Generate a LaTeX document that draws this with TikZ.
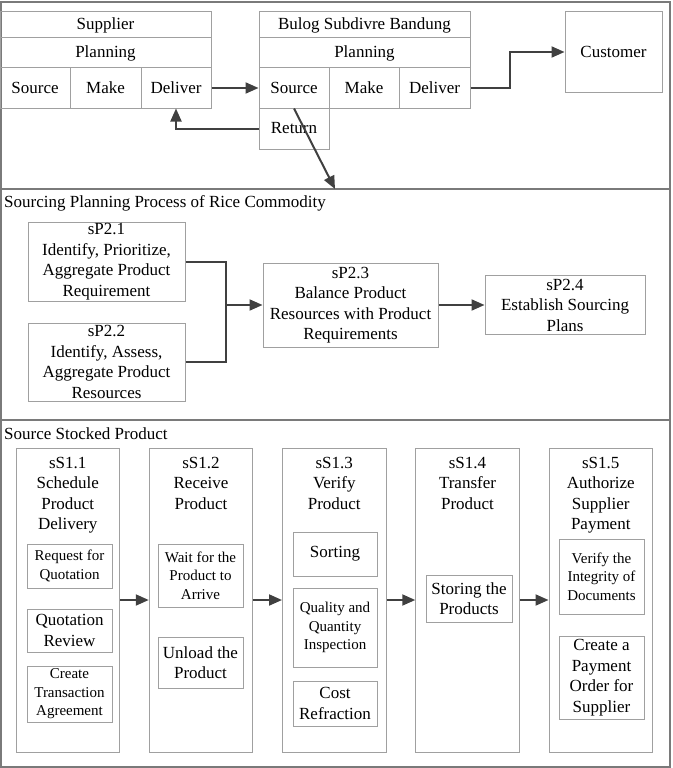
\documentclass[tikz,border=0pt]{standalone}
\usepackage{fontspec}
\setmainfont{Liberation Serif}
\usetikzlibrary{arrows.meta}
\definecolor{boxgray}{HTML}{A0A0A0}
\definecolor{framegray}{HTML}{7A7A7A}
\definecolor{arrowgray}{HTML}{404040}
\newcommand{\bigtxt}{\fontsize{17}{20.5}\selectfont}
\newcommand{\smalltxt}{\fontsize{15}{18.5}\selectfont}

\begin{document}
\begin{tikzpicture}[x=1pt,y=-1pt,
    cell/.style={draw=boxgray,line width=1pt,inner sep=0pt,align=center,font=\bigtxt},
    small/.style={font=\smalltxt},
    frame/.style={draw=framegray,line width=1.2pt},
    link/.style={draw=arrowgray,line width=2pt},
    arr/.style={link,-{Triangle[length=13pt,width=11pt]}}]
  \useasboundingbox (0,0) rectangle (672,768);
  \draw[frame] (1,2) rectangle (670,189);
  \draw[frame] (1,189) rectangle (670,420);
  \draw[frame] (1,420) rectangle (670,767);

  \node[cell,minimum width=211pt,minimum height=26pt] (sup) at (105.5,25) {Supplier};
  \node[cell,minimum width=211pt,minimum height=30pt] (supplan) at (105.5,53) {Planning};
  \node[cell,minimum width=70pt,minimum height=40pt] (supsrc) at (35,88) {Source};
  \node[cell,minimum width=71pt,minimum height=40pt] (supmake) at (105.5,88) {Make};
  \node[cell,minimum width=70pt,minimum height=40pt] (supdel) at (176,88) {Deliver};
  \node[cell,minimum width=211pt,minimum height=26pt] (bul) at (364.5,25) {Bulog Subdivre Bandung};
  \node[cell,minimum width=211pt,minimum height=30pt] (bulplan) at (364.5,53) {Planning};
  \node[cell,minimum width=70pt,minimum height=40pt] (bulsrc) at (294,88) {Source};
  \node[cell,minimum width=70pt,minimum height=40pt] (bulmake) at (364,88) {Make};
  \node[cell,minimum width=71pt,minimum height=40pt] (buldel) at (434.5,88) {Deliver};
  \node[cell,minimum width=70pt,minimum height=41pt] (bulret) at (294,128.5) {Return};
  \node[cell,minimum width=97pt,minimum height=80pt] (cust) at (613.5,52) {Customer};
  \coordinate (midtop) at (335,189);

  \draw[arr] (supdel.east) -- (bulsrc.west);
  \draw[arr] (buldel.east) -- ++(39,0) |- (cust.west);
  \draw[arr] (bulret.west) -| (supdel.south);
  \draw[arr] (bulsrc.south) -- (midtop);

  \node[anchor=west,inner sep=0pt,font=\bigtxt] (plantitle) at (4,203) {Sourcing Planning Process of Rice Commodity};
  \node[cell,minimum width=157pt,minimum height=79pt] (p21) at (106.5,261.5) {sP2.1\\Identify, Prioritize,\\Aggregate Product\\Requirement};
  \node[cell,minimum width=157pt,minimum height=78pt] (p22) at (106.5,362) {sP2.2\\Identify, Assess,\\Aggregate Product\\Resources};
  \node[cell,minimum width=175pt,minimum height=84pt] (p23) at (350.5,305) {sP2.3\\Balance Product\\Resources with Product\\Requirements};
  \node[cell,minimum width=160pt,minimum height=59pt] (p24) at (565,305) {sP2.4\\Establish Sourcing\\Plans};
  \coordinate (join) at (226,305);
  \draw[link] (p21.east) -| (join);
  \draw[link] (p22.east) -| (join);
  \draw[arr] (join) -- (p23.west);
  \draw[arr] (p23.east) -- (p24.west);

  \node[anchor=west,inner sep=0pt,font=\bigtxt] (srctitle) at (4,434) {Source Stocked Product};
  \foreach \i/\t in {1/{sS1.1\\Schedule\\Product\\Delivery},2/{sS1.2\\Receive\\Product},
      3/{sS1.3\\Verify\\Product},4/{sS1.4\\Transfer\\Product},5/{sS1.5\\Authorize\\Supplier\\Payment}} {
    \pgfmathsetmacro{\cx}{67.75+(\i-1)*133.25}
    \node[cell,minimum width=103.5pt,minimum height=304pt] (col\i) at (\cx,600) {};
    \node[anchor=north,inner sep=0pt,align=center,font=\bigtxt] (head\i) at (\cx,457) {\t};
  }
  \foreach \i in {1,...,4} {
    \pgfmathtruncatemacro{\j}{\i+1}
    \draw[arr] (col\i.east) -- (col\j.west);
  }

  \node[cell,small,minimum width=85pt,minimum height=44pt] (rfq) at (69.5,566) {Request for\\Quotation};
  \node[cell,minimum width=85pt,minimum height=43pt] (qrev) at (69.5,630.5) {Quotation\\Review};
  \node[cell,small,minimum width=85pt,minimum height=56pt] (cta) at (69.5,694) {Create\\Transaction\\Agreement};
  \node[cell,small,minimum width=85pt,minimum height=63pt] (wait) at (200.5,575.5) {Wait for the\\Product to\\Arrive};
  \node[cell,minimum width=85pt,minimum height=51pt] (unload) at (200.5,662.5) {Unload the\\Product};
  \node[cell,minimum width=84pt,minimum height=44pt] (sort) at (335,554) {Sorting};
  \node[cell,small,minimum width=84pt,minimum height=79pt] (qqi) at (335,627.5) {Quality and\\Quantity\\Inspection};
  \node[cell,minimum width=84pt,minimum height=45pt] (cost) at (335,703.5) {Cost\\Refraction};
  \node[cell,minimum width=86pt,minimum height=47pt] (store) at (469,598.5) {Storing the\\Products};
  \node[cell,small,minimum width=85pt,minimum height=75pt] (verif) at (601.5,576.5) {Verify the\\Integrity of\\Documents};
  \node[cell,minimum width=85pt,minimum height=83pt] (pay) at (601.5,677.5) {Create a\\Payment\\Order for\\Supplier};
\end{tikzpicture}
\end{document}
